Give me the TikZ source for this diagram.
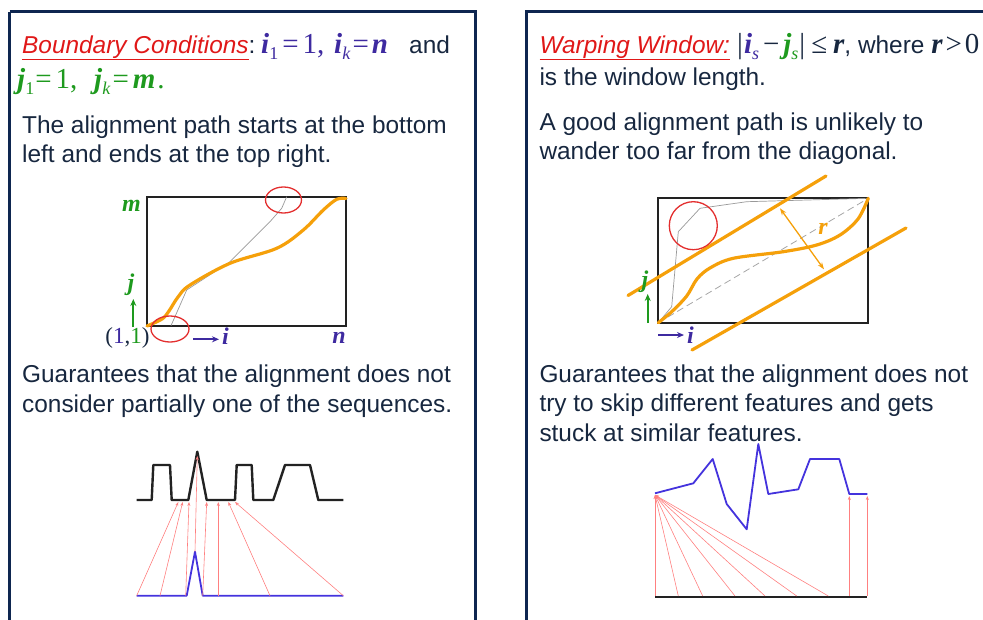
\documentclass[tikz,border=0pt]{standalone}
\usepackage{fontspec}
\setmainfont{Liberation Sans}
\newfontfamily\tms{Liberation Serif}
\usetikzlibrary{arrows.meta}
\definecolor{navy}{HTML}{0E2650}
\definecolor{txt}{HTML}{17273F}
\definecolor{ttl}{HTML}{E01818}
\definecolor{pur}{HTML}{3E2AA0}
\definecolor{grn}{HTML}{1E9A1E}
\definecolor{org}{HTML}{F5A00A}
\definecolor{sig}{HTML}{4433DD}
\definecolor{rl}{HTML}{FF8080}
\definecolor{blk}{HTML}{222222}
\newcommand{\mi}[1]{{\tms\bfseries\itshape #1}}
\newcommand{\sbs}[1]{\raisebox{-0.22em}{\fontsize{18}{18}\selectfont #1}}
\newcommand{\gap}[1]{\hspace{#1pt}}
\begin{document}
\begin{tikzpicture}[x=1pt,y=-1pt,
  txtn/.style={anchor=base west, inner sep=0, text=txt, font=\fontsize{24.4}{29.5}\selectfont},
  mth/.style={anchor=base west, inner sep=0, font=\tms\fontsize{29}{31}\selectfont},
  lbl/.style={inner sep=0, font=\tms\bfseries\itshape\fontsize{24}{26}\selectfont},
  frame/.style={draw=navy, line width=3.4},
  grid/.style={draw=blk, line width=2.2},
  orng/.style={draw=org, line width=3.2, line cap=round, line join=round},
  thin/.style={draw=gray!80, line width=0.7},
  ring/.style={draw=ttl!90, line width=1.3},
  redl/.style={draw=rl, line width=0.6, -{Stealth[length=4pt,width=3pt]}},
  blksig/.style={draw=blk, line width=2.4, line join=round},
  bluesig/.style={draw=sig, line width=1.8, line join=round},
  arr/.style={line width=1.8, -{Stealth[length=7pt,width=6pt]}}]
\useasboundingbox (0,0) rectangle (983,619);
\clip (0,0) rectangle (983,619);
% frames
\draw[frame] (9.5,11.5) -- (475.5,11.5) -- (475.5,650);
\draw[frame] (9.5,650) -- (9.5,11.5);
\draw[frame] (526.5,650) -- (526.5,11.5) -- (1000,11.5);

% ---------------- left panel text ----------------
\node[txtn] (lt1) at (22,53) {\textcolor{ttl}{\underline{\textit{Boundary Conditions}}}:};
\node[mth, text=pur] (lm1) at (261,53) {\mi{i}\sbs{1}\gap{4}=\gap{4}1,};
\node[mth, text=pur] (lm2) at (334,53) {\mi{i}\sbs{\textit{k}}\gap{2}=\gap{3}\mi{n}};
\node[txtn] (land) at (409,53) {and};
\node[mth, text=grn] (lm3) at (17,88) {\mi{j}\sbs{1}\gap{1}=\gap{4}1,};
\node[mth, text=grn] (lm4) at (94,88) {\mi{j}\sbs{\textit{k}}\gap{2}=\gap{4}\mi{m}\gap{2}.};
\node[txtn] (lp1) at (22,133) {The alignment path starts at the bottom};
\node[txtn] (lp2) at (22,162.5) {left and ends at the top right.};
\node[txtn] (lg1) at (22,382) {Guarantees that the alignment does not};
\node[txtn] (lg2) at (22,412) {consider partially one of the sequences.};

% ---------------- left grid ----------------
\draw[grid] (147,197) rectangle (346,326);
\coordinate (LO) at (147,326);
\coordinate (LE) at (346,198.5);
\draw[thin] (171,325.7) -- (186.7,290) -- (230,261.7) -- (270,221.7) -- (281.7,208.3) -- (286.7,196.7);
\draw[orng] plot[smooth, tension=0.55] coordinates {(147,326) (162,319) (169,311) (178,297) (190,285) (230,263.3) (276.7,248.3) (303.3,230) (323.3,210) (336.7,199.3) (346,198.5)};
\draw[ring] (170,329) ellipse [x radius=19, y radius=13];
\draw[ring] (283.5,200) ellipse [x radius=18, y radius=13];
\node[lbl, text=grn, anchor=base east] (lm) at (141,211) {m};
\node[lbl, text=grn, anchor=base] (lj) at (131,290) {j};
\coordinate (ljb) at (133.3,327);
\coordinate (ljt) at (133.3,299);
\draw[arr, grn] (ljb) -- (ljt);
\node[anchor=base, inner sep=0, font=\tms\fontsize{23}{25}\selectfont, text=txt] (l11) at (127.5,343) {(\textcolor{pur}{1},\textcolor{grn}{1})};
\coordinate (lia) at (193,339.3);
\coordinate (lib) at (219,339.3);
\draw[arr, pur] (lia) -- (lib);
\node[lbl, text=pur, anchor=base west] (li) at (222,344) {i};
\node[lbl, text=pur, anchor=base] (ln) at (339,343) {n};

% ---------------- left signals ----------------
\draw[blksig] (136.7,500) -- (151.7,500) -- (153.3,465) -- (170,465) -- (171.7,500) -- (188.3,500) -- (197.3,451.7) -- (206.7,500) -- (235,500) -- (236.7,465) -- (251.7,465) -- (253.3,500) -- (273.3,500) -- (285,465) -- (310,465) -- (318.3,500) -- (343.3,500);
\draw[bluesig] (136.7,595.7) -- (186.7,595.7) -- (195,551.7) -- (202.7,595.7) -- (343.3,595.7);
\draw[redl] (136.7,595.7) -- (178.3,502);
\draw[redl] (160,595.7) -- (182.7,502);
\draw[redl] (185.7,595.7) -- (189,502);
\draw[redl] (195,551.7) -- (197.3,456);
\draw[redl] (202.7,595.7) -- (206.7,502);
\draw[redl] (218.3,595.7) -- (218.3,502);
\draw[redl] (270,595.7) -- (228.3,502);
\draw[redl] (343.3,595.7) -- (235,502);

% ---------------- right panel text ----------------
\node[txtn] (rt1) at (539.3,53) {\textcolor{ttl}{\underline{\textit{Warping Window:}}}};
\node[mth, text=txt] (rm1) at (737,53) {|\gap{1}\textcolor{pur}{\mi{i}\sbs{\textit{s}}}\gap{4}−\gap{4}\textcolor{grn}{\mi{j}\sbs{\textit{s}}}\gap{1}|\gap{6}≤\gap{6}\mi{r}{\rmfamily\fontsize{24.4}{29.5}\selectfont, where }\mi{r}\gap{3}>\gap{3}0};
\node[txtn] (rp0) at (539.3,85) {is the window length.};
\node[txtn] (rp1) at (539.3,130) {A good alignment path is unlikely to};
\node[txtn] (rp2) at (539.3,159.5) {wander too far from the diagonal.};
\node[txtn] (rg1) at (539.3,382) {Guarantees that the alignment does not};
\node[txtn] (rg2) at (539.3,411.7) {try to skip different features and gets};
\node[txtn] (rg3) at (539.3,441) {stuck at similar features.};

% ---------------- right grid ----------------
\draw[grid] (658.3,198.3) rectangle (868.3,322.7);
\coordinate (RO) at (658.3,322.7);
\coordinate (RE) at (868.3,198.3);
\draw[draw=gray!70, line width=0.8, dash pattern=on 7pt off 4pt] (RO) -- (RE);
\draw[thin] (RO) -- (671.7,306.7) -- (678.3,231.7) -- (700,208.3) -- (746.7,201.7) -- (RE);
\draw[orng] plot[smooth, tension=0.55] coordinates {(658.3,322.7) (671.7,311.7) (686.7,296) (697,279) (710,268) (733.3,258.3) (783.3,251.7) (816.7,245) (840,235) (858,219) (868.3,198.3)};
\coordinate (ua) at (628,295.5);
\coordinate (ub) at (826,176);
\coordinate (da) at (692,350);
\coordinate (db) at (906,228);
\draw[orng] (ua) -- (ub);
\draw[orng] (da) -- (db);
\coordinate (ra) at (780,208.3);
\coordinate (rb) at (824,269.3);
\draw[org, line width=1.3, {Stealth[length=7pt,width=5pt]}-{Stealth[length=7pt,width=5pt]}] (ra) -- (rb);
\node[lbl, text=org, anchor=base] (rr) at (823,234) {r};
\draw[ring] (693.3,225.7) circle [radius=24];
\node[lbl, text=grn, anchor=base] (rj) at (645,287) {j};
\coordinate (rjb) at (647.7,323);
\coordinate (rjt) at (647.7,294);
\draw[arr, grn] (rjb) -- (rjt);
\coordinate (ria) at (658.3,335);
\coordinate (rib) at (684,335);
\draw[arr, pur] (ria) -- (rib);
\node[lbl, text=pur, anchor=base west] (ri) at (687,343) {i};

% ---------------- right signals ----------------
\coordinate (P0) at (655,495);
\draw[bluesig] (655,493.3) -- (693.3,483.3) -- (712.7,459) -- (726.7,504) -- (746.7,529.3) -- (758.3,444) -- (768.3,494) -- (798.3,489.3) -- (810,459) -- (839.3,459) -- (849.3,494) -- (867.3,494);
\draw[blksig] (655,596.7) -- (867.3,596.7);
\foreach \bx in {655,678.3,702.7,735,765,796.7,828.3}
  \draw[redl] (\bx,596) -- (P0);
\draw[redl] (849.3,596) -- (849.3,496);
\draw[redl] (867.3,596) -- (867.3,496);
\end{tikzpicture}
\end{document}
